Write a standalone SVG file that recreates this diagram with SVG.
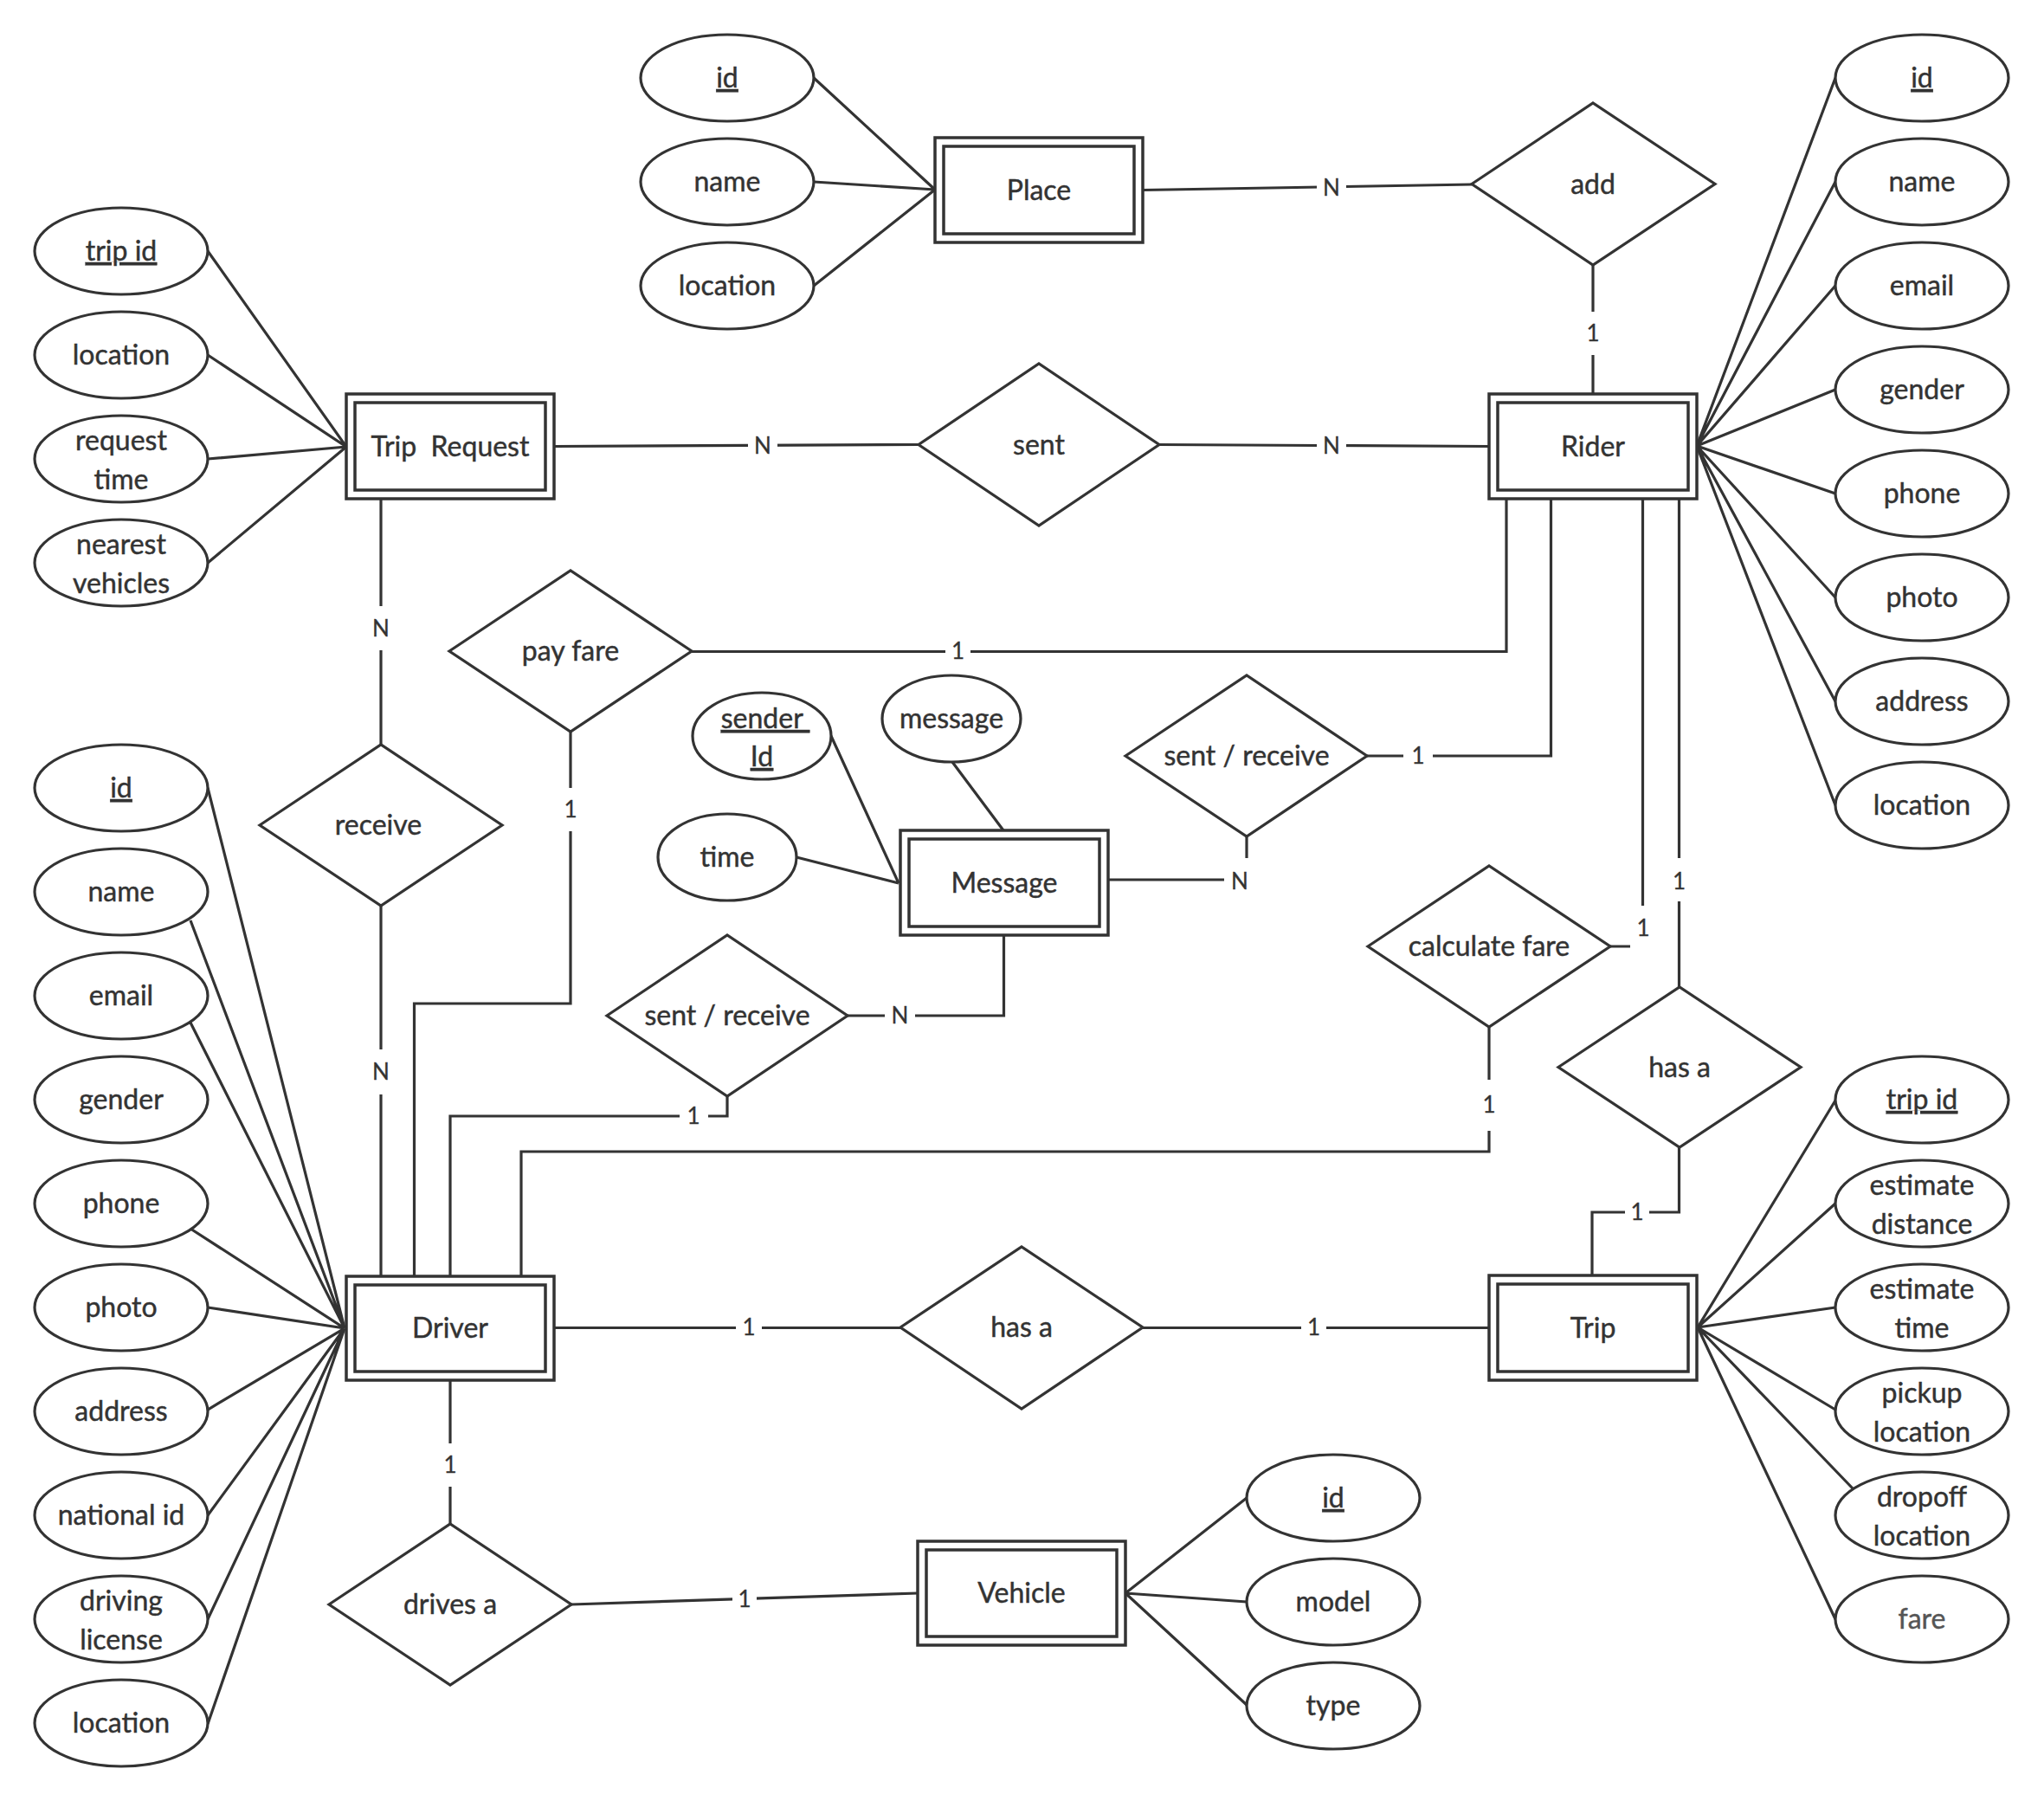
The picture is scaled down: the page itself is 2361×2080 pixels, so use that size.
<svg xmlns="http://www.w3.org/2000/svg" width="2361" height="2080" viewBox="0 0 2361 2080">
  <style>
    .ln { fill: none; stroke: #333; stroke-width: 3.2; stroke-linejoin: miter; }
    .ent rect { fill: #fff; stroke: #333; stroke-width: 3.5; }
    .attr ellipse { fill: #fff; stroke: #333; stroke-width: 3.2; }
    .rel polygon { fill: #fff; stroke: #333; stroke-width: 3.2; stroke-linejoin: miter; }
    text { font-family: Lato, "Liberation Sans", sans-serif; font-size: 32px; fill: #333; stroke: #333; stroke-width: 0.45; text-anchor: middle; }
    .key { text-decoration: underline; }
    .card rect { fill: #fff; stroke: none; }
    .card text { font-size: 26px; stroke-width: 0.3; }
  </style>
  <rect width="2361" height="2080" fill="#fff"/>

  <g id="connectors">
    <!-- attribute links -->
    <path class="ln" d="M400 516 L240 290 M400 516 L240 410 M400 516 L240 530 M400 516 L240 650"/>
    <path class="ln" d="M1080 219 L940 90 M1080 219 L940 210 M1080 219 L940 330"/>
    <path class="ln" d="M1960 515 L2120 90 M1960 515 L2120 210 M1960 515 L2120 330 M1960 515 L2120 450 M1960 515 L2120 570 M1960 515 L2120 690 M1960 515 L2120 810 M1960 515 L2120 930"/>
    <path class="ln" d="M398 1534 L240 910 M398 1534 L220 1063 M398 1534 L220 1181 M398 1534 L220 1419 M398 1534 L240 1510 M398 1534 L240 1628 M398 1534 L240 1750 M398 1534 L240 1870 M398 1534 L240 1991"/>
    <path class="ln" d="M1961 1533 L2120 1271 M1961 1533 L2120 1390 M1961 1533 L2120 1510 M1961 1533 L2120 1628 M1961 1533 L2140 1719 M1961 1533 L2120 1870"/>
    <path class="ln" d="M1300 1840 L1440 1730 M1300 1840 L1440 1850 M1300 1840 L1440 1969"/>
    <path class="ln" d="M1038 1020 L960 850 M1038 1020 L920 990 M1159 959 L1100 880"/>

    <!-- relationship links -->
    <path class="ln" d="M1320 219.5 L1700 213"/>
    <path class="ln" d="M1840 306 L1840 455"/>
    <path class="ln" d="M640 515.5 L1061 513.5"/>
    <path class="ln" d="M1339 513.5 L1720 515.5"/>
    <path class="ln" d="M440 576 L440 860"/>
    <path class="ln" d="M440 1046 L440 1474"/>
    <path class="ln" d="M659 845 L659 1159 L478.5 1159 L478.5 1474"/>
    <path class="ln" d="M799 752.5 L1740 752.5 L1740 576"/>
    <path class="ln" d="M1579 873 L1791.5 873 L1791.5 576"/>
    <path class="ln" d="M1440 966 L1440 1016 L1280 1016"/>
    <path class="ln" d="M979 1173 L1159.5 1173 L1159.5 1080"/>
    <path class="ln" d="M840 1266 L840 1289 L520 1289 L520 1474"/>
    <path class="ln" d="M1860 1093 L1897.5 1093 L1897.5 576"/>
    <path class="ln" d="M1720 1186 L1720 1330 L602 1330 L602 1474"/>
    <path class="ln" d="M1939.5 1140 L1939.5 576"/>
    <path class="ln" d="M1939.5 1325 L1939.5 1400 L1839 1400 L1839 1473"/>
    <path class="ln" d="M640 1533.5 L1040 1533.5"/>
    <path class="ln" d="M1320 1533.5 L1720 1533.5"/>
    <path class="ln" d="M520 1594 L520 1760"/>
    <path class="ln" d="M660 1853 L1060 1840"/>

    <!-- cardinality labels -->
    <g class="card">
      <rect x="1521" y="192" width="34" height="50"/><text x="1538" y="226">N</text>
      <rect x="1825" y="360" width="30" height="50"/><text x="1840" y="394">1</text>
      <rect x="864" y="490" width="34" height="50"/><text x="881" y="524">N</text>
      <rect x="1521" y="490" width="34" height="50"/><text x="1538" y="524">N</text>
      <rect x="423" y="700" width="34" height="51"/><text x="440" y="735">N</text>
      <rect x="423" y="1212" width="34" height="52"/><text x="440" y="1247">N</text>
      <rect x="644" y="910" width="30" height="50"/><text x="659" y="944">1</text>
      <rect x="1092" y="727" width="29" height="50"/><text x="1106.5" y="761">1</text>
      <rect x="1621" y="848" width="34" height="50"/><text x="1638" y="882">1</text>
      <rect x="1414" y="991" width="36" height="54"/><text x="1432" y="1027">N</text>
      <rect x="1022" y="1148" width="35" height="50"/><text x="1039.5" y="1182">N</text>
      <rect x="785" y="1264" width="33" height="50"/><text x="801" y="1298">1</text>
      <rect x="1883" y="1046" width="30" height="52"/><text x="1898" y="1081">1</text>
      <rect x="1705" y="1247" width="30" height="59"/><text x="1720" y="1285">1</text>
      <rect x="1924" y="991" width="31" height="50"/><text x="1939.5" y="1027">1</text>
      <rect x="1877" y="1375" width="28" height="50"/><text x="1891" y="1409">1</text>
      <rect x="850" y="1508" width="30" height="50"/><text x="865" y="1542">1</text>
      <rect x="1503" y="1508" width="29" height="50"/><text x="1517.5" y="1542">1</text>
      <rect x="505" y="1667" width="30" height="50"/><text x="520" y="1701">1</text>
      <rect x="846" y="1822" width="28" height="50"/><text x="860" y="1856">1</text>
    </g>
  </g>

  <!-- entities -->
  <g id="place" class="ent"><rect x="1080" y="159" width="240" height="121"/><rect x="1090" y="169" width="220" height="101"/><text x="1200" y="231">Place</text></g>
  <g id="trip-request" class="ent"><rect x="400" y="455" width="240" height="121"/><rect x="410" y="465" width="220" height="101"/><text x="520" y="527" xml:space="preserve">Trip  Request</text></g>
  <g id="rider" class="ent"><rect x="1720" y="455" width="240" height="121"/><rect x="1730" y="465" width="220" height="101"/><text x="1840" y="527">Rider</text></g>
  <g id="message" class="ent"><rect x="1040" y="959" width="240" height="121"/><rect x="1050" y="969" width="220" height="101"/><text x="1160" y="1031">Message</text></g>
  <g id="driver" class="ent"><rect x="400" y="1474" width="240" height="120"/><rect x="410" y="1484" width="220" height="100"/><text x="520" y="1545">Driver</text></g>
  <g id="trip" class="ent"><rect x="1720" y="1473" width="240" height="121"/><rect x="1730" y="1483" width="220" height="101"/><text x="1840" y="1545">Trip</text></g>
  <g id="vehicle" class="ent"><rect x="1060" y="1780" width="240" height="120"/><rect x="1070" y="1790" width="220" height="100"/><text x="1180" y="1851">Vehicle</text></g>

  <!-- relationships -->
  <g id="rel-add" class="rel"><polygon points="1700,212.5 1840,119 1981,212.5 1840,306"/><text x="1840" y="224">add</text></g>
  <g id="rel-sent" class="rel"><polygon points="1061,513.5 1200,420 1339,513.5 1200,607"/><text x="1200" y="525">sent</text></g>
  <g id="rel-pay-fare" class="rel"><polygon points="519,752 659,659 799,752 659,845"/><text x="659" y="763">pay fare</text></g>
  <g id="rel-receive" class="rel"><polygon points="300,953 440,860 580,953 440,1046"/><text x="437" y="964">receive</text></g>
  <g id="rel-rider-message" class="rel"><polygon points="1300,873 1440,780 1579,873 1440,966"/><text x="1440" y="884">sent / receive</text></g>
  <g id="rel-driver-message" class="rel"><polygon points="701,1173 840,1080 979,1173 840,1266"/><text x="840" y="1184">sent / receive</text></g>
  <g id="rel-calculate-fare" class="rel"><polygon points="1580,1093 1720,1000 1860,1093 1720,1186"/><text x="1720" y="1104">calculate fare</text></g>
  <g id="rel-rider-trip" class="rel"><polygon points="1800,1232.5 1940,1140 2080,1232.5 1940,1325"/><text x="1940" y="1244">has a</text></g>
  <g id="rel-driver-trip" class="rel"><polygon points="1040,1533 1180,1440 1320,1533 1180,1627"/><text x="1180" y="1544">has a</text></g>
  <g id="rel-drives" class="rel"><polygon points="380,1853 520,1760 660,1853 520,1946"/><text x="520" y="1864">drives a</text></g>

  <!-- attributes: Place -->
  <g id="place-id" class="attr"><ellipse cx="840" cy="90" rx="100" ry="50"/><text class="key" x="840" y="101">id</text></g>
  <g id="place-name" class="attr"><ellipse cx="840" cy="210" rx="100" ry="50"/><text x="840" y="221">name</text></g>
  <g id="place-location" class="attr"><ellipse cx="840" cy="330" rx="100" ry="50"/><text x="840" y="341">location</text></g>

  <!-- attributes: Trip Request -->
  <g id="tr-trip-id" class="attr"><ellipse cx="140" cy="290" rx="100" ry="50"/><text class="key" x="140" y="301">trip id</text></g>
  <g id="tr-location" class="attr"><ellipse cx="140" cy="410" rx="100" ry="50"/><text x="140" y="421">location</text></g>
  <g id="tr-request-time" class="attr"><ellipse cx="140" cy="530" rx="100" ry="50"/><text x="140" y="520">request<tspan x="140" y="565">time</tspan></text></g>
  <g id="tr-nearest-vehicles" class="attr"><ellipse cx="140" cy="650" rx="100" ry="50"/><text x="140" y="640">nearest<tspan x="140" y="685">vehicles</tspan></text></g>

  <!-- attributes: Rider -->
  <g id="rider-id" class="attr"><ellipse cx="2220" cy="90" rx="100" ry="50"/><text class="key" x="2220" y="101">id</text></g>
  <g id="rider-name" class="attr"><ellipse cx="2220" cy="210" rx="100" ry="50"/><text x="2220" y="221">name</text></g>
  <g id="rider-email" class="attr"><ellipse cx="2220" cy="330" rx="100" ry="50"/><text x="2220" y="341">email</text></g>
  <g id="rider-gender" class="attr"><ellipse cx="2220" cy="450" rx="100" ry="50"/><text x="2220" y="461">gender</text></g>
  <g id="rider-phone" class="attr"><ellipse cx="2220" cy="570" rx="100" ry="50"/><text x="2220" y="581">phone</text></g>
  <g id="rider-photo" class="attr"><ellipse cx="2220" cy="690" rx="100" ry="50"/><text x="2220" y="701">photo</text></g>
  <g id="rider-address" class="attr"><ellipse cx="2220" cy="810" rx="100" ry="50"/><text x="2220" y="821">address</text></g>
  <g id="rider-location" class="attr"><ellipse cx="2220" cy="930" rx="100" ry="50"/><text x="2220" y="941">location</text></g>

  <!-- attributes: Message -->
  <g id="msg-sender-id" class="attr"><ellipse cx="880" cy="850" rx="80" ry="50"/><text class="key" x="884" y="841" xml:space="preserve">sender </text><text class="key" x="880" y="885">Id</text></g>
  <g id="msg-message" class="attr"><ellipse cx="1099" cy="830" rx="80" ry="50"/><text x="1099" y="841">message</text></g>
  <g id="msg-time" class="attr"><ellipse cx="840" cy="990" rx="80" ry="50"/><text x="840" y="1001">time</text></g>

  <!-- attributes: Driver -->
  <g id="driver-id" class="attr"><ellipse cx="140" cy="910" rx="100" ry="50"/><text class="key" x="140" y="921">id</text></g>
  <g id="driver-name" class="attr"><ellipse cx="140" cy="1030" rx="100" ry="50"/><text x="140" y="1041">name</text></g>
  <g id="driver-email" class="attr"><ellipse cx="140" cy="1150" rx="100" ry="50"/><text x="140" y="1161">email</text></g>
  <g id="driver-gender" class="attr"><ellipse cx="140" cy="1270" rx="100" ry="50"/><text x="140" y="1281">gender</text></g>
  <g id="driver-phone" class="attr"><ellipse cx="140" cy="1390" rx="100" ry="50"/><text x="140" y="1401">phone</text></g>
  <g id="driver-photo" class="attr"><ellipse cx="140" cy="1510" rx="100" ry="50"/><text x="140" y="1521">photo</text></g>
  <g id="driver-address" class="attr"><ellipse cx="140" cy="1630" rx="100" ry="50"/><text x="140" y="1641">address</text></g>
  <g id="driver-national-id" class="attr"><ellipse cx="140" cy="1750" rx="100" ry="50"/><text x="140" y="1761">national id</text></g>
  <g id="driver-license" class="attr"><ellipse cx="140" cy="1870" rx="100" ry="50"/><text x="140" y="1860">driving<tspan x="140" y="1905">license</tspan></text></g>
  <g id="driver-location" class="attr"><ellipse cx="140" cy="1990" rx="100" ry="50"/><text x="140" y="2001">location</text></g>

  <!-- attributes: Trip -->
  <g id="trip-id" class="attr"><ellipse cx="2220" cy="1270" rx="100" ry="50"/><text class="key" x="2220" y="1281">trip id</text></g>
  <g id="trip-est-distance" class="attr"><ellipse cx="2220" cy="1390" rx="100" ry="50"/><text x="2220" y="1380">estimate<tspan x="2220" y="1425">distance</tspan></text></g>
  <g id="trip-est-time" class="attr"><ellipse cx="2220" cy="1510" rx="100" ry="50"/><text x="2220" y="1500">estimate<tspan x="2220" y="1545">time</tspan></text></g>
  <g id="trip-pickup" class="attr"><ellipse cx="2220" cy="1630" rx="100" ry="50"/><text x="2220" y="1620">pickup<tspan x="2220" y="1665">location</tspan></text></g>
  <g id="trip-dropoff" class="attr"><ellipse cx="2220" cy="1750" rx="100" ry="50"/><text x="2220" y="1740">dropoff<tspan x="2220" y="1785">location</tspan></text></g>
  <g id="trip-fare" class="attr"><ellipse cx="2220" cy="1870" rx="100" ry="50"/><text x="2220" y="1881" style="fill:#555;stroke:#555">fare</text></g>

  <!-- attributes: Vehicle -->
  <g id="vehicle-id" class="attr"><ellipse cx="1540" cy="1730" rx="100" ry="50"/><text class="key" x="1540" y="1741">id</text></g>
  <g id="vehicle-model" class="attr"><ellipse cx="1540" cy="1850" rx="100" ry="50"/><text x="1540" y="1861">model</text></g>
  <g id="vehicle-type" class="attr"><ellipse cx="1540" cy="1970" rx="100" ry="50"/><text x="1540" y="1981">type</text></g>
</svg>
